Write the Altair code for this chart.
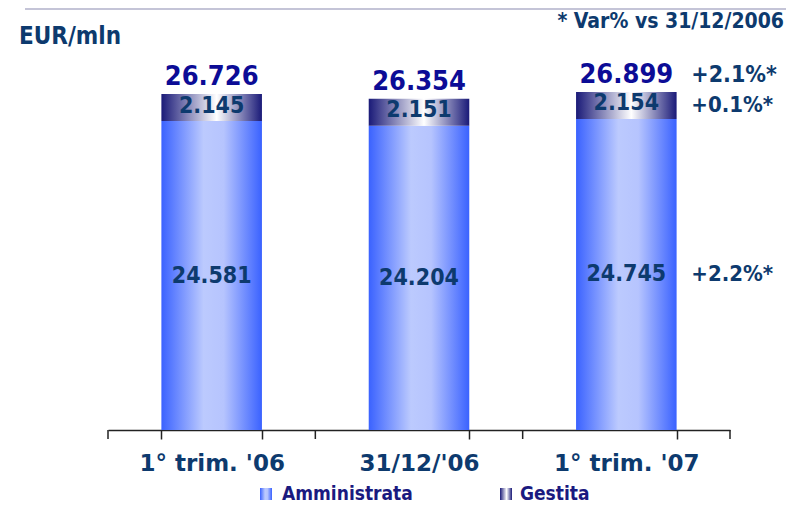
import altair as alt
import pandas as pd

categories = ["1° trim. '06", "31/12/'06", "1° trim. '07"]
amministrata = [24581, 24204, 24745]
gestita = [2145, 2151, 2154]
totals = [26726, 26354, 26899]
var_labels = ["+2.1%*", "+0.1%*", "+2.2%*"]
series_names = ["Amministrata", "Gestita"]


def it_fmt(v):
    return f"{v:,}".replace(",", ".")


df = pd.DataFrame({
    "cat": categories,
    "adm": amministrata,
    "ges": gestita,
    "tot": totals,
})
df["adm_mid"] = df["adm"] / 2
df["ges_top"] = df["adm"] + df["ges"]
df["ges_mid"] = df["adm"] + df["ges"] / 2
df["adm_lbl"] = [it_fmt(v) for v in amministrata]
df["ges_lbl"] = [it_fmt(v) for v in gestita]
df["tot_lbl"] = [it_fmt(v) for v in totals]

last = df.iloc[-1]
var_df = pd.DataFrame({
    "cat": [categories[-1]] * 3,
    "y": [last["tot"], last["ges_mid"], last["adm_mid"]],
    "lbl": var_labels,
})

FONT = "DejaVu Sans Condensed, DejaVu Sans"
FONT_WIDE = "DejaVu Sans"
NAVY = "#0d3a6e"
TOTC = "#0c0c96"
LEGC = "#1a1a80"

grad_adm = alt.Gradient(
    gradient="linear", x1=0, x2=1, y1=0, y2=0,
    stops=[
        alt.GradientStop(offset=0, color="#3a62ff"),
        alt.GradientStop(offset=0.42, color="#bccafe"),
        alt.GradientStop(offset=0.62, color="#b6c4fe"),
        alt.GradientStop(offset=1, color="#3a62ff"),
    ],
)
grad_ges = alt.Gradient(
    gradient="linear", x1=0, x2=1, y1=0, y2=0,
    stops=[
        alt.GradientStop(offset=0, color="#1a1a78"),
        alt.GradientStop(offset=0.55, color="#ffffff"),
        alt.GradientStop(offset=1, color="#1a1a78"),
    ],
)

xenc = alt.X(
    "cat:N", sort=categories, title=None,
    scale=alt.Scale(paddingInner=0.515, paddingOuter=0.2575),
    axis=alt.Axis(
        labelAngle=0, labelFont=FONT_WIDE, labelFontSize=23, labelFontWeight="bold",
        labelColor=NAVY, domainColor="#222222", domainWidth=1.5,
        ticks=True, tickColor="#222222", tickWidth=1.5, tickSize=9,
        tickBand="extent", labelPadding=13, grid=False,
    ),
)
yscale = alt.Scale(domain=[0, 29435], nice=False, zero=True)

base = alt.Chart(df)

bar_adm = base.mark_bar(color=grad_adm).encode(
    x=xenc,
    y=alt.Y("adm:Q", scale=yscale, axis=None),
    y2=alt.Y2(datum=0),
)
bar_ges = base.mark_bar(color=grad_ges).encode(
    x=alt.X("cat:N", sort=categories),
    y=alt.Y("ges_top:Q", scale=yscale),
    y2="adm:Q",
)
lbl_adm = base.mark_text(font=FONT, fontSize=23, fontWeight="bold", color=NAVY,
                         baseline="middle").encode(
    x=alt.X("cat:N", sort=categories), y=alt.Y("adm_mid:Q", scale=yscale), text="adm_lbl:N")
lbl_ges = base.mark_text(font=FONT, fontSize=23, fontWeight="bold", color=NAVY,
                         baseline="middle", dy=-2).encode(
    x=alt.X("cat:N", sort=categories), y=alt.Y("ges_mid:Q", scale=yscale), text="ges_lbl:N")
lbl_tot = base.mark_text(font=FONT, fontSize=27, fontWeight="bold", color=TOTC,
                         baseline="bottom", dy=-3).encode(
    x=alt.X("cat:N", sort=categories), y=alt.Y("tot:Q", scale=yscale), text="tot_lbl:N")

var_top = alt.Chart(var_df.iloc[[0]]).mark_text(
    font=FONT, fontSize=23, fontWeight="bold", color=NAVY, align="left",
    baseline="bottom", dx=65, dy=-5).encode(
    x=alt.X("cat:N", sort=categories), y=alt.Y("y:Q", scale=yscale), text="lbl:N")
var_rest = alt.Chart(var_df.iloc[1:]).mark_text(
    font=FONT, fontSize=22, fontWeight="bold", color=NAVY, align="left",
    baseline="middle", dx=65).encode(
    x=alt.X("cat:N", sort=categories), y=alt.Y("y:Q", scale=yscale), text="lbl:N")

# tick marks at the category boundaries
bounds = pd.DataFrame({"b": list(range(len(categories) + 1))})
ticks = alt.Chart(bounds).mark_rule(color="#222222", strokeWidth=1.5).encode(
    x=alt.X("b:Q", scale=alt.Scale(domain=[0, len(categories)], nice=False), axis=None),
    y=alt.value(370), y2=alt.value(379),
)

# decorations: top rule, unit title, footnote
top_rule = alt.Chart(pd.DataFrame({"a": [0]})).mark_rule(
    color="#8a8ab0", strokeWidth=1.2).encode(
    x=alt.value(-83), x2=alt.value(678), y=alt.value(-51))
unit_title = alt.Chart(pd.DataFrame({"t": ["EUR/mln"]})).mark_text(
    font=FONT, fontSize=24, fontWeight="bold", color=NAVY, align="left",
    baseline="middle").encode(x=alt.value(-89), y=alt.value(-23), text="t:N")
note = alt.Chart(pd.DataFrame({"t": ["* Var% vs 31/12/2006"]})).mark_text(
    font=FONT, fontSize=21, fontWeight="bold", color=NAVY, align="right",
    baseline="middle").encode(x=alt.value(676), y=alt.value(-38), text="t:N")

# legend
leg_df = pd.DataFrame({"name": series_names})
leg_sym_adm = alt.Chart(leg_df.iloc[[0]]).mark_rect(color=grad_adm).encode(
    x=alt.value(152), x2=alt.value(164), y=alt.value(428), y2=alt.value(440))
leg_sym_ges = alt.Chart(leg_df.iloc[[1]]).mark_rect(color=grad_ges).encode(
    x=alt.value(392), x2=alt.value(404), y=alt.value(428), y2=alt.value(440))
leg_txt_adm = alt.Chart(leg_df.iloc[[0]]).mark_text(
    font=FONT, fontSize=19, fontWeight="bold", color=LEGC, align="left",
    baseline="middle").encode(x=alt.value(174), y=alt.value(434), text="name:N")
leg_txt_ges = alt.Chart(leg_df.iloc[[1]]).mark_text(
    font=FONT, fontSize=19, fontWeight="bold", color=LEGC, align="left",
    baseline="middle").encode(x=alt.value(412), y=alt.value(434), text="name:N")

bars = alt.layer(
    bar_adm, bar_ges, lbl_adm, lbl_ges, lbl_tot, var_top, var_rest,
    top_rule, unit_title, note,
    leg_sym_adm, leg_sym_ges, leg_txt_adm, leg_txt_ges,
)

chart = alt.layer(bars, ticks).resolve_scale(x="independent").properties(
    width=622, height=370,
    autosize=alt.AutoSizeParams(type="none"),
    padding={"left": 100, "top": 52, "right": 56, "bottom": 74},
    background="white",
).configure_view(stroke=None)

chart.save("out.html", embed_options={"renderer": "svg", "actions": False})
